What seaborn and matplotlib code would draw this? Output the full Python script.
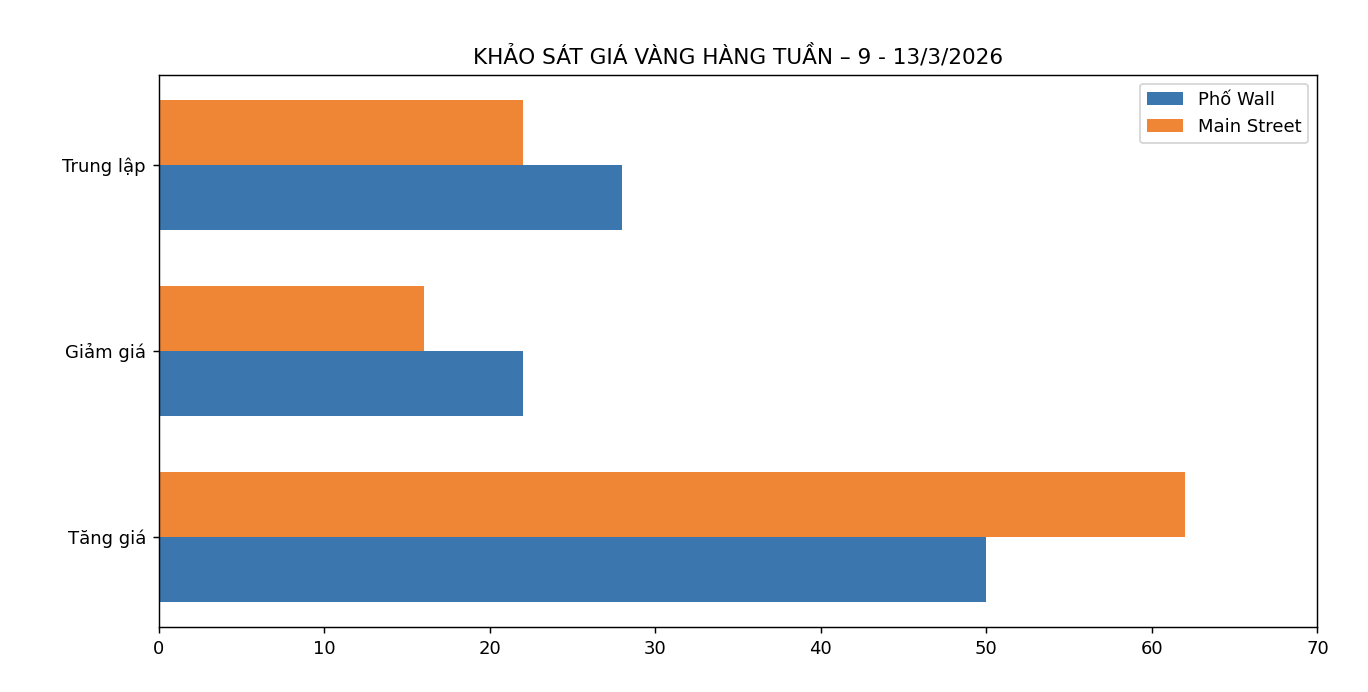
import matplotlib
matplotlib.use("Agg")
import matplotlib.pyplot as plt
import seaborn as sns
import pandas as pd

categories = ["Tăng giá", "Giảm giá", "Trung lập"]
pho_wall = [50, 22, 28]
main_street = [62, 16, 22]
series = ["Phố Wall", "Main Street"]
title = "KHẢO SÁT GIÁ VÀNG HÀNG TUẦN – 9 - 13/3/2026"

df = pd.DataFrame({
    "category": categories * 2,
    "value": pho_wall + main_street,
    "group": [series[0]] * len(categories) + [series[1]] * len(categories),
})

plt.rcParams["font.family"] = ["DejaVu Sans"]

DPI = 130
fig, ax = plt.subplots(figsize=(1368 / DPI, 692 / DPI), dpi=DPI)
fig.subplots_adjust(left=0.116, right=0.963, top=0.892, bottom=0.094)

# seaborn draws the first category at the top, so feed it reversed
sns.barplot(
    data=df, x="value", y="category", hue="group",
    order=categories[::-1], hue_order=series[::-1],
    palette=["#ef8636", "#3b76af"], saturation=1,
    orient="h", width=0.7, ax=ax,
)

ax.set_ylim(2.485, -0.485)
ax.set_xlim(0, 70)
ax.set_xlabel("")
ax.set_ylabel("")
ax.set_title(title)

handles, labels = ax.get_legend_handles_labels()
ax.legend(handles[::-1], labels[::-1], loc="upper right")

fig.savefig("out.png", dpi=DPI)
